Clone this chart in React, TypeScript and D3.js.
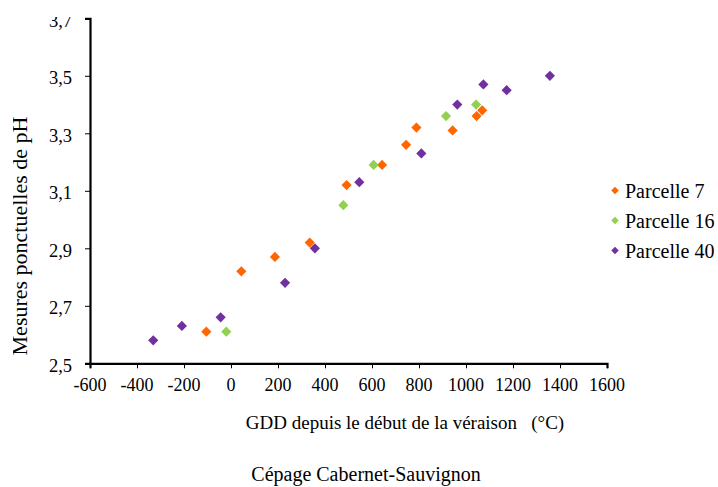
import React, { useEffect, useRef } from "react";
import * as d3 from "d3";

const seriesNames = ["Parcelle 7", "Parcelle 16", "Parcelle 40"];
const seriesColors = ["#FF6600", "#92D050", "#7030A0"];

const p7X = [-105, 44, 187, 335, 492, 643, 745, 789, 943, 1045, 1069];
const p7Y = [2.61, 2.82, 2.87, 2.92, 3.12, 3.19, 3.26, 3.32, 3.31, 3.36, 3.38];
const p16X = [-20, 478, 607, 915, 1043];
const p16Y = [2.61, 3.05, 3.19, 3.36, 3.4];
const p40X = [-331, -209, -44, 230, 357, 546, 810, 963, 1074, 1173, 1357];
const p40Y = [2.58, 2.63, 2.66, 2.78, 2.9, 3.13, 3.23, 3.4, 3.47, 3.45, 3.5];

const xTicks = [-600, -400, -200, 0, 200, 400, 600, 800, 1000, 1200, 1400, 1600];
const yTicks = [2.5, 2.7, 2.9, 3.1, 3.3, 3.5, 3.7];

const xTitle = "GDD depuis le début de la véraison   (°C)";
const yTitle = "Mesures ponctuelles de pH";
const chartTitle = "Cépage Cabernet-Sauvignon";

export default function App() {
  const ref = useRef<SVGSVGElement | null>(null);
  useEffect(() => {
    const svg = d3.select(ref.current);
    svg.selectAll("*").remove();
    const W = 718, H = 487;
    const font = "'Liberation Serif', 'Times New Roman', serif";

    svg.append("defs").append("clipPath").attr("id", "clipc")
      .append("rect").attr("x", 13).attr("y", 17).attr("width", W - 13).attr("height", H - 17);
    const g = svg.append("g").attr("clip-path", "url(#clipc)");
    g.append("rect").attr("x", 0).attr("y", 0).attr("width", W).attr("height", H).attr("fill", "#fff");

    const x = d3.scaleLinear().domain([-600, 1600]).range([90, 607]);
    const y = d3.scaleLinear().domain([2.5, 3.7]).range([363.3, 18.3]);

    // axes
    const xAxis = d3.axisBottom(x).tickValues(xTicks).tickSize(5).tickFormat(() => "");
    const xg = g.append("g").attr("transform", `translate(0,${y(2.5)})`).call(xAxis);
    xg.select(".domain").attr("stroke", "#000").attr("stroke-width", 2.2);
    xg.selectAll(".tick line").attr("stroke", "#000").attr("stroke-width", 1);

    const yAxis = d3.axisLeft(y).tickValues(yTicks).tickSize(5).tickFormat(() => "");
    const yg = g.append("g").attr("transform", `translate(${x(-600)},0)`).call(yAxis);
    yg.select(".domain").attr("stroke", "#000").attr("stroke-width", 2.2);
    yg.selectAll(".tick line").attr("stroke", "#000").attr("stroke-width", 1);

    // tick labels
    g.append("g").selectAll("text").data(xTicks).join("text")
      .attr("x", (d) => x(d)).attr("y", 391)
      .attr("text-anchor", "middle")
      .attr("font-family", font).attr("font-size", 18)
      .text((d) => String(d));

    g.append("g").selectAll("text").data(yTicks).join("text")
      .attr("x", 72).attr("y", (d) => y(d) + 8.5)
      .attr("text-anchor", "end")
      .attr("font-family", font).attr("font-size", 18.5)
      .text((d) => d.toFixed(1).replace(".", ","));

    // titles
    g.append("text").attr("x", 405).attr("y", 429)
      .attr("text-anchor", "middle").attr("font-family", font).attr("font-size", 19)
      .style("white-space", "pre").text(xTitle);
    g.append("text").attr("transform", "translate(26.5,236) rotate(-90)")
      .attr("text-anchor", "middle").attr("font-family", font).attr("font-size", 22)
      .text(yTitle);
    g.append("text").attr("x", 366).attr("y", 481)
      .attr("text-anchor", "middle").attr("font-family", font).attr("font-size", 20)
      .text(chartTitle);

    const sym = d3.symbol().type(d3.symbolDiamond2).size(66);
    const symL = d3.symbol().type(d3.symbolDiamond2).size(36);
    const series = [
      { xs: p7X, ys: p7Y },
      { xs: p16X, ys: p16Y },
      { xs: p40X, ys: p40Y },
    ];
    series.forEach((s, i) => {
      const pts = s.xs.map((v, j) => [v, s.ys[j]]);
      g.append("g").selectAll("path").data(pts).join("path")
        .attr("d", sym()!)
        .attr("transform", (d) => `translate(${x(d[0])},${y(d[1])})`)
        .attr("fill", seriesColors[i]);
    });

    // legend
    const lg = g.append("g");
    seriesNames.forEach((n, i) => {
      const cy = 190.5 + i * 30;
      lg.append("path").attr("d", symL()!).attr("transform", `translate(615,${cy})`).attr("fill", seriesColors[i]);
      lg.append("text").attr("x", 625).attr("y", cy + 7)
        .attr("font-family", font).attr("font-size", 20).text(n);
    });
  }, []);
  return (
    <svg ref={ref} width={718} height={487}
      style={{ position: "absolute", left: 0, top: 0, background: "#fff" }} />
  );
}
